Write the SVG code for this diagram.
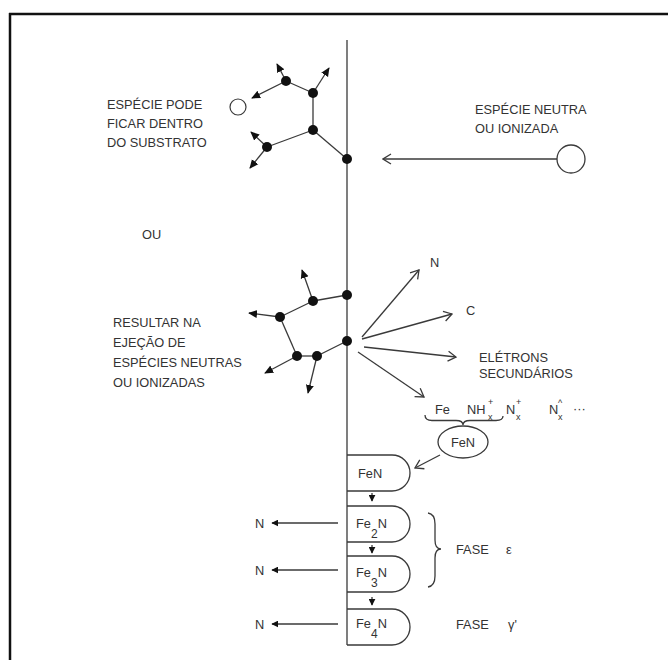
<svg xmlns="http://www.w3.org/2000/svg" width="668" height="660" viewBox="0 0 668 660">
  <defs>
    <style>
      .ln { stroke: #3a3a3a; stroke-width: 1.3; fill: none; }
      .atom { fill: #111; }
      .txt { font-family: "Liberation Sans", Arial, sans-serif; font-size: 12.8px; fill: #333; }
      .sub { font-size: 12px; }
      .tiny { font-size: 9px; }
      .bond { stroke: #3a3a3a; stroke-width: 1.3; }
      .arrowF { marker-end: url(#tri); }
      .arrowO { marker-end: url(#chev); }
    </style>
    <marker id="tri" viewBox="0 0 10 10" refX="9" refY="5" markerWidth="9" markerHeight="9" markerUnits="userSpaceOnUse" orient="auto">
      <path d="M0,0.5 L10,5 L0,9.5 z" fill="#111"/>
    </marker>
    <marker id="chev" viewBox="0 0 10 12" refX="9" refY="6" markerWidth="10" markerHeight="12" markerUnits="userSpaceOnUse" orient="auto">
      <path d="M1,1 L9,6 L1,11" fill="none" stroke="#3a3a3a" stroke-width="1.3"/>
    </marker>
    <marker id="smallTri" viewBox="0 0 10 10" refX="9" refY="5" markerWidth="7" markerHeight="7" markerUnits="userSpaceOnUse" orient="auto">
      <path d="M0,0 L10,5 L0,10 z" fill="#111"/>
    </marker>
  </defs>

  <rect width="668" height="660" fill="#fff"/>

  <!-- frame: left and top rules -->
  <g id="frame">
    <line x1="10" y1="13" x2="10" y2="660" stroke="#111" stroke-width="2.5"/>
    <line x1="9" y1="14" x2="668" y2="14" stroke="#111" stroke-width="2.5"/>
  </g>

  <!-- substrate surface -->
  <g id="surface">
    <line x1="347" y1="40" x2="347" y2="645" class="ln" stroke-width="1.5"/>
  </g>

  <g id="connectors">
    <!-- incoming species -->
    <line x1="557" y1="159" x2="383" y2="159" class="ln arrowO"/>

    <!-- upper cascade: bonds -->
    <line x1="347" y1="159" x2="313" y2="130" class="bond"/>
    <line x1="313" y1="130" x2="313" y2="93" class="bond"/>
    <line x1="313" y1="93" x2="286" y2="81" class="bond"/>
    <line x1="313" y1="130" x2="267" y2="147" class="bond"/>
    <!-- upper cascade: recoils -->
    <line x1="286" y1="81" x2="277" y2="64" class="bond arrowF"/>
    <line x1="313" y1="93" x2="329" y2="68" class="bond arrowF"/>
    <line x1="286" y1="81" x2="252" y2="98" class="bond arrowF"/>
    <line x1="267" y1="147" x2="251" y2="132" class="bond arrowF"/>
    <line x1="267" y1="147" x2="250" y2="168" class="bond arrowF"/>

    <!-- lower cascade: bonds -->
    <line x1="347" y1="295" x2="313" y2="301" class="bond"/>
    <line x1="313" y1="301" x2="280" y2="317" class="bond"/>
    <line x1="280" y1="317" x2="297" y2="356" class="bond"/>
    <line x1="297" y1="356" x2="317" y2="356" class="bond"/>
    <line x1="317" y1="356" x2="347" y2="341" class="bond"/>
    <!-- lower cascade: recoils -->
    <line x1="313" y1="301" x2="302" y2="270" class="bond arrowF"/>
    <line x1="280" y1="317" x2="249" y2="313" class="bond arrowF"/>
    <line x1="297" y1="356" x2="265" y2="373" class="bond arrowF"/>
    <line x1="317" y1="356" x2="308" y2="393" class="bond arrowF"/>

    <!-- sputtered products -->
    <line x1="362" y1="337" x2="419" y2="270" class="ln arrowO"/>
    <line x1="362" y1="339" x2="452" y2="314" class="ln arrowO"/>
    <line x1="364" y1="347" x2="456" y2="357" class="ln arrowO"/>
    <line x1="358" y1="352" x2="424" y2="397" class="ln arrowO"/>

    <!-- redeposition of FeN -->
    <line x1="440" y1="455" x2="415" y2="468" class="ln arrowO"/>

    <!-- phase sequence -->
    <line x1="372" y1="493" x2="372" y2="501" class="bond" marker-end="url(#smallTri)"/>
    <line x1="372" y1="545" x2="372" y2="553" class="bond" marker-end="url(#smallTri)"/>
    <line x1="372" y1="597" x2="372" y2="605" class="bond" marker-end="url(#smallTri)"/>

    <!-- nitrogen release -->
    <line x1="338" y1="523" x2="272" y2="523" class="ln" marker-end="url(#smallTri)"/>
    <line x1="338" y1="570" x2="272" y2="570" class="ln" marker-end="url(#smallTri)"/>
    <line x1="338" y1="624" x2="272" y2="624" class="ln" marker-end="url(#smallTri)"/>
  </g>

  <!-- atoms -->
  <g id="atoms-upper">
    <circle cx="286" cy="81" r="5" class="atom"/>
    <circle cx="313" cy="93" r="5" class="atom"/>
    <circle cx="313" cy="130" r="5" class="atom"/>
    <circle cx="267" cy="147" r="5" class="atom"/>
    <circle cx="347" cy="159" r="5" class="atom"/>
  </g>
  <g id="atoms-lower">
    <circle cx="347" cy="295" r="5" class="atom"/>
    <circle cx="313" cy="301" r="5" class="atom"/>
    <circle cx="280" cy="317" r="5" class="atom"/>
    <circle cx="347" cy="341" r="5" class="atom"/>
    <circle cx="297" cy="356" r="5" class="atom"/>
    <circle cx="317" cy="356" r="5" class="atom"/>
  </g>

  <g id="trapped-species">
    <circle cx="238" cy="107" r="8" fill="#fff" stroke="#3a3a3a" stroke-width="1.2"/>
    <text class="txt" x="107" y="109">ESPÉCIE PODE</text>
    <text class="txt" x="107" y="128">FICAR DENTRO</text>
    <text class="txt" x="107" y="147">DO SUBSTRATO</text>
  </g>

  <g id="incident-species">
    <circle cx="571" cy="159" r="14" fill="#fff" stroke="#3a3a3a" stroke-width="1.3"/>
    <text class="txt" x="475" y="114">ESPÉCIE NEUTRA</text>
    <text class="txt" x="475" y="133">OU IONIZADA</text>
  </g>

  <g id="or-label">
    <text class="txt" x="142" y="239">OU</text>
  </g>

  <g id="ejection-label">
    <text class="txt" x="113" y="327">RESULTAR NA</text>
    <text class="txt" x="113" y="347">EJEÇÃO DE</text>
    <text class="txt" x="113" y="367">ESPÉCIES NEUTRAS</text>
    <text class="txt" x="113" y="387">OU IONIZADAS</text>
  </g>

  <g id="products">
    <text class="txt" x="430" y="267">N</text>
    <text class="txt" x="466" y="315">C</text>
    <text class="txt" x="479" y="362">ELÉTRONS</text>
    <text class="txt" x="479" y="378">SECUNDÁRIOS</text>
  </g>

  <g id="plasma-species">
    <text class="txt" x="435" y="414">Fe</text>
    <text class="txt" x="467" y="414">NH</text>
    <text class="txt tiny" x="488" y="405">+</text>
    <text class="txt tiny" x="488" y="420">x</text>
    <text class="txt" x="506" y="414">N</text>
    <text class="txt tiny" x="516" y="405">+</text>
    <text class="txt tiny" x="516" y="420">x</text>
    <text class="txt" x="549" y="414">N</text>
    <text class="txt tiny" x="558" y="406" font-size="7">^</text>
    <text class="txt tiny" x="558" y="420">x</text>
    <text class="txt" x="573" y="413">···</text>
    <path d="M425,415 Q425,420.5 432,420.5 L456,420.5 Q463,420.5 463,425 Q463,420.5 470,420.5 L496,420.5 Q503,420.5 503,416" class="ln" stroke-width="1.1"/>
  </g>

  <g id="fen-cluster">
    <ellipse cx="463" cy="442" rx="25" ry="16" fill="#fff" stroke="#3a3a3a" stroke-width="1.3"/>
    <text class="txt" x="463" y="447" text-anchor="middle">FeN</text>
  </g>

  <!-- nitride layers -->
  <g id="layer-FeN">
    <path d="M347,455 H392 A18,18 0 0 1 392,491 H347" class="ln"/>
    <text class="txt" x="358" y="478">FeN</text>
  </g>
  <g id="layer-Fe2N">
    <path d="M347,506 H392 A18,18 0 0 1 392,542 H347" class="ln"/>
    <text class="txt" x="356" y="528">Fe<tspan class="sub" dy="10">2</tspan><tspan dy="-10">N</tspan></text>
  </g>
  <g id="layer-Fe3N">
    <path d="M347,556 H392 A18,18 0 0 1 392,592 H347" class="ln"/>
    <text class="txt" x="356" y="577">Fe<tspan class="sub" dy="10">3</tspan><tspan dy="-10">N</tspan></text>
  </g>
  <g id="layer-Fe4N">
    <path d="M347,609 H392 A18,18 0 0 1 392,645 H347" class="ln"/>
    <text class="txt" x="356" y="628">Fe<tspan class="sub" dy="10">4</tspan><tspan dy="-10">N</tspan></text>
  </g>

  <g id="released-nitrogen">
    <text class="txt" x="255" y="528">N</text>
    <text class="txt" x="255" y="575">N</text>
    <text class="txt" x="255" y="629">N</text>
  </g>

  <g id="phase-epsilon">
    <path d="M428,513 Q435,514 435,524 L435,540 Q435,549 441,549 Q435,549 435,558 L435,576 Q435,586 428,587" class="ln" stroke-width="1.1"/>
    <text class="txt" x="456" y="554">FASE</text>
    <text class="txt" x="506" y="554">ε</text>
  </g>
  <g id="phase-gamma">
    <text class="txt" x="456" y="629">FASE</text>
    <text class="txt" x="508" y="629">γ'</text>
  </g>
</svg>
